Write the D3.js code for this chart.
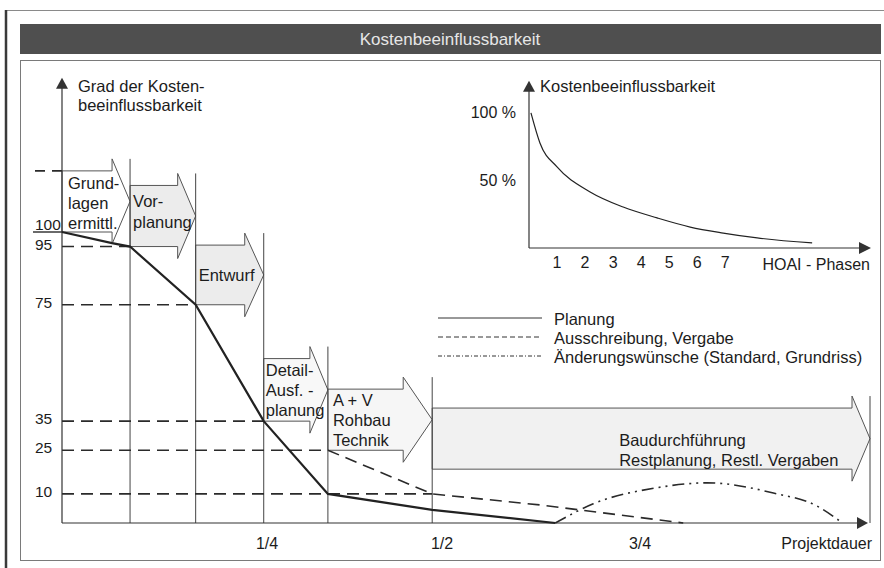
<!DOCTYPE html>
<html>
<head>
<meta charset="utf-8">
<script src="https://cdn.jsdelivr.net/npm/d3@7"></script>
<style>
  body { margin: 0; background: #fff; }
  text { font-family: "Liberation Sans", Arial, sans-serif; fill: #1c1c1c; }
</style>
</head>
<body>
<div id="holder"></div>
<script>
const w = 884;
const h = 568;

// PHASES (x in share of Projektdauer, y in Grad der Kostenbeeinflussbarkeit)
const phaseLabels = [
    ["Grund-", "lagen", "ermittl."],
    ["Vor-", "planung"],
    ["Entwurf"],
    ["Detail-", "Ausf. -", "planung"],
    ["A + V", "Rohbau", "Technik"],
    ["Baudurchführung", "Restplanung, Restl. Vergaben"]
];
const phaseStart = [0, 0.083, 0.163, 0.246, 0.337, 0.486];
const phaseEnd = [0.083, 0.163, 0.246, 0.337, 0.486, 1];
const phaseTop = [121, 116, 95.5, 56.5, 46, 39.5];
const phaseBottom = [100, 95, 75, 35, 25, 18.5];

// REFERENCE LEVELS ON THE Y AXIS
const yTicks = [100, 95, 75, 35, 25, 10];
const refValues = [95, 75, 35, 25, 10];
const refUntil = [0.083, 0.163, 0.246, 0.337, 0.486];

// X AXIS TICKS
const xTicks = [0.25, 0.5, 0.75];
const xTickLabels = ["1/4", "1/2", "3/4"];

// SERIES
const seriesNames = ["Planung", "Ausschreibung, Vergabe", "Änderungswünsche (Standard, Grundriss)"];
const planT = [0, 0.061, 0.083, 0.163, 0.246, 0.337, 0.486, 0.643];
const planV = [100, 96.2, 95, 75, 35, 10, 4.5, 0];
const vergT = [0.337, 0.486, 0.624, 0.674, 0.797];
const vergV = [25, 10, 6.2, 4.5, 0];
const aendT = [0.643, 0.691, 0.768, 0.823, 0.895, 0.942, 0.970];
const aendV = [0, 6.6, 12.1, 13.8, 10.3, 5.9, 0];

// INSET: KOSTENBEEINFLUSSBARKEIT OVER HOAI PHASES
const hoaiPhases = [1, 2, 3, 4, 5, 6, 7];
const inflPhase = [0.07, 0.39, 1.0, 2.18, 3.36, 4.57, 5.75, 6.93, 8.14, 10.1];
const inflValue = [99.3, 77.2, 59.6, 41.2, 30.1, 22.1, 15.4, 11.0, 7.4, 3.7];
const inflTicks = [100, 50];

// STYLE / LAYOUT
const phaseFill = ["#ffffff", "#ececec", "#ececec", "#f8f8f8", "#f6f6f6", "#f1f1f1"];
const phaseHead = [18, 18, 19, 18, 29, 18];
const labelDx = [6, 3, 3, 2, 5, 187];
const labelDy = [2, -4, 0, 0, 0, 11];
const lineGap = [20, 21, 20, 20, 20, 20];
const dashRef = "12,7";
const dashDot = "12,5,2,5,2,5";

// CREATE SVG
const svg = d3.select("#holder")
    .append("svg")
    .attr("width", w)
    .attr("height", h);

// FRAME + TITLE
svg.append("line")
    .attr("x1", 6).attr("x2", 884).attr("y1", 10.5).attr("y2", 10.5)
    .attr("stroke", "#8a8a8a").attr("stroke-width", 1.2);
svg.append("line")
    .attr("x1", 6).attr("x2", 6).attr("y1", 10).attr("y2", h)
    .attr("stroke", "#3a3a3a").attr("stroke-width", 2.5);
svg.append("rect")
    .attr("x", 20).attr("y", 24).attr("width", 861).attr("height", 30)
    .attr("fill", "#4f4f4f");
svg.append("text")
    .attr("x", 450).attr("y", 45)
    .attr("text-anchor", "middle")
    .style("font-size", "17px")
    .style("fill", "#e6e6e6")
    .text("Kostenbeeinflussbarkeit");
svg.append("rect")
    .attr("x", 20.5).attr("y", 60.5).attr("width", 860).attr("height", 500)
    .attr("fill", "none").attr("stroke", "#7a7a7a").attr("stroke-width", 1);

// MAIN SCALES
const x = d3.scaleLinear()
    .domain([0, 0.25, 0.5, 0.75, 1])
    .range([62, 267, 442, 640, 870]);
const y = d3.scaleLinear()
    .domain([0, 100])
    .range([523, 232]);

const main = svg.append("g");

// PHASE ARROWS
function arrowPath(i) {
    const x0 = x(phaseStart[i]), x1 = x(phaseEnd[i]), hx = x1 - phaseHead[i];
    const yt = y(phaseTop[i]), yb = y(phaseBottom[i]), ym = (yt + yb) / 2;
    return d3.line()([[x0, yt], [hx, yt], [hx, yt - 12], [x1, ym], [hx, yb + 12], [hx, yb], [x0, yb]]) + "Z";
}

main.selectAll(".phase")
    .data(phaseLabels)
    .enter()
    .append("path")
    .attr("class", "phase")
    .attr("d", (d, i) => arrowPath(i))
    .attr("fill", (d, i) => phaseFill[i])
    .attr("stroke", "#555")
    .attr("stroke-width", 1);

// PHASE BOUNDARIES
main.selectAll(".boundary")
    .data(phaseEnd)
    .enter()
    .append("line")
    .attr("class", "boundary")
    .attr("x1", d => x(d)).attr("x2", d => x(d))
    .attr("y1", (d, i) => y(phaseTop[i]) - 12)
    .attr("y2", y(0))
    .attr("stroke", "#444").attr("stroke-width", 1);

// REFERENCE LINES
main.selectAll(".ref")
    .data(refValues)
    .enter()
    .append("line")
    .attr("class", "ref")
    .attr("x1", x(0)).attr("x2", (d, i) => x(refUntil[i]))
    .attr("y1", d => y(d)).attr("y2", d => y(d))
    .attr("stroke", "#2a2a2a").attr("stroke-width", 1.6)
    .attr("stroke-dasharray", dashRef);

main.append("line")
    .attr("x1", 35).attr("x2", x(0))
    .attr("y1", y(phaseTop[0])).attr("y2", y(phaseTop[0]))
    .attr("stroke", "#2a2a2a").attr("stroke-width", 1.6)
    .attr("stroke-dasharray", "10,7");
main.append("line")
    .attr("x1", 33).attr("x2", x(0))
    .attr("y1", y(100)).attr("y2", y(100))
    .attr("stroke", "#2a2a2a").attr("stroke-width", 1.4);

// AXES
main.append("line")
    .attr("x1", x(0)).attr("x2", x(0)).attr("y1", y(150)).attr("y2", y(0))
    .attr("stroke", "#333").attr("stroke-width", 1.2);
main.append("path")
    .attr("d", d3.line()([[x(0), y(153)], [x(0) - 6, y(153) + 11], [x(0) + 6, y(153) + 11]]) + "Z")
    .attr("fill", "#333");
main.append("line")
    .attr("x1", x(0)).attr("x2", x(1) - 8).attr("y1", y(0)).attr("y2", y(0))
    .attr("stroke", "#333").attr("stroke-width", 1.2);
main.append("path")
    .attr("d", d3.line()([[x(1) - 2, y(0)], [x(1) - 13, y(0) - 6], [x(1) - 13, y(0) + 6]]) + "Z")
    .attr("fill", "#333");

main.selectAll(".ytick")
    .data(yTicks)
    .enter()
    .append("text")
    .attr("class", "ytick")
    .attr("x", 35)
    .attr("y", d => y(d) + (d === 100 ? -2 : 3))
    .style("font-size", "15.5px")
    .text(d => d);

main.selectAll(".xtick")
    .data(xTicks)
    .enter()
    .append("text")
    .attr("class", "xtick")
    .attr("x", d => x(d))
    .attr("y", 549)
    .attr("text-anchor", "middle")
    .style("font-size", "16px")
    .text((d, i) => xTickLabels[i]);

main.append("text")
    .attr("x", 872).attr("y", 549)
    .attr("text-anchor", "end")
    .style("font-size", "16px")
    .text("Projektdauer");

main.append("text")
    .attr("x", 78).attr("y", 92)
    .style("font-size", "16.5px")
    .text("Grad der Kosten-");
main.append("text")
    .attr("x", 78).attr("y", 111)
    .style("font-size", "16.5px")
    .text("beeinflussbarkeit");

// SERIES LINES
const line = d3.line().x(d => x(d[0])).y(d => y(d[1]));

main.append("path")
    .datum(planT.map((t, i) => [t, planV[i]]))
    .attr("d", line)
    .attr("fill", "none").attr("stroke", "#222").attr("stroke-width", 2.2);

main.append("path")
    .datum(vergT.map((t, i) => [t, vergV[i]]))
    .attr("d", line)
    .attr("fill", "none").attr("stroke", "#2a2a2a").attr("stroke-width", 1.6)
    .attr("stroke-dasharray", dashRef);

main.append("path")
    .datum(aendT.map((t, i) => [t, aendV[i]]))
    .attr("d", line.curve(d3.curveMonotoneX))
    .attr("fill", "none").attr("stroke", "#2a2a2a").attr("stroke-width", 1.6)
    .attr("stroke-dasharray", dashDot);

// PHASE TEXTS
phaseLabels.forEach((lines, i) => {
    const yt = y(phaseTop[i]), yb = y(phaseBottom[i]);
    const mid = (yt + yb) / 2 + labelDy[i];
    const first = mid - (lines.length - 1) * lineGap[i] / 2;
    main.append("g")
        .selectAll("text")
        .data(lines)
        .enter()
        .append("text")
        .attr("x", x(phaseStart[i]) + labelDx[i])
        .attr("y", (d, j) => first + j * lineGap[i] + 6)
        .style("font-size", "16.5px")
        .text(d => d);
});

// LEGEND
const legendDash = [null, "5,3", "4,2,1,2"];
const legend = main.selectAll(".legend")
    .data(seriesNames)
    .enter()
    .append("g")
    .attr("class", "legend")
    .attr("transform", (d, i) => "translate(0," + (318 + i * 19) + ")");
legend.append("line")
    .attr("x1", 438).attr("x2", 542)
    .attr("stroke", "#333").attr("stroke-width", 1)
    .attr("stroke-dasharray", (d, i) => legendDash[i]);
legend.append("text")
    .attr("x", 554).attr("y", 7)
    .style("font-size", "16.5px")
    .text(d => d);

// INSET CHART
const xi = d3.scaleLinear().domain([0, 12.2]).range([529, 871]);
const yi = d3.scaleLinear().domain([0, 100]).range([248, 112]);
const inset = svg.append("g");

inset.append("line")
    .attr("x1", xi(0)).attr("x2", xi(0)).attr("y1", yi(118)).attr("y2", yi(0))
    .attr("stroke", "#333").attr("stroke-width", 1.2);
inset.append("path")
    .attr("d", d3.line()([[xi(0), yi(123)], [xi(0) - 6, yi(123) + 11], [xi(0) + 6, yi(123) + 11]]) + "Z")
    .attr("fill", "#333");
inset.append("line")
    .attr("x1", xi(0)).attr("x2", xi(12.2) - 8).attr("y1", yi(0)).attr("y2", yi(0))
    .attr("stroke", "#333").attr("stroke-width", 1.2);
inset.append("path")
    .attr("d", d3.line()([[xi(12.2), yi(0)], [xi(12.2) - 12, yi(0) - 6], [xi(12.2) - 12, yi(0) + 6]]) + "Z")
    .attr("fill", "#333");

inset.append("path")
    .datum(inflPhase.map((p, i) => [p, inflValue[i]]))
    .attr("d", d3.line().x(d => xi(d[0])).y(d => yi(d[1])).curve(d3.curveMonotoneX))
    .attr("fill", "none").attr("stroke", "#222").attr("stroke-width", 1.2);

inset.selectAll(".itick")
    .data(hoaiPhases)
    .enter()
    .append("text")
    .attr("class", "itick")
    .attr("x", d => xi(d))
    .attr("y", 268)
    .attr("text-anchor", "middle")
    .style("font-size", "16px")
    .text(d => d);

inset.selectAll(".iytick")
    .data(inflTicks)
    .enter()
    .append("text")
    .attr("class", "iytick")
    .attr("x", 516)
    .attr("y", d => yi(d) + 6)
    .attr("text-anchor", "end")
    .style("font-size", "16px")
    .text(d => d + " %");

inset.append("text")
    .attr("x", 870).attr("y", 270)
    .attr("text-anchor", "end")
    .style("font-size", "16px")
    .text("HOAI - Phasen");

inset.append("text")
    .attr("x", 540).attr("y", 92)
    .style("font-size", "16.5px")
    .text("Kostenbeeinflussbarkeit");
</script>
</body>
</html>
